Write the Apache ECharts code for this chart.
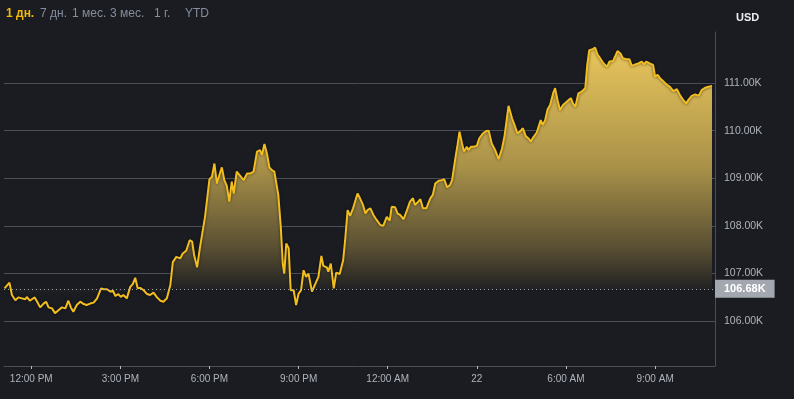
<!DOCTYPE html>
<html>
<head>
<meta charset="utf-8">
<script src="https://cdn.jsdelivr.net/npm/echarts@6/dist/echarts.min.js"></script>
<style>
html, body { margin: 0; padding: 0; background: #1b1c22; }
#chart { width: 794px; height: 399px; }
</style>
</head>
<body>
<div id="chart"></div>
<script>
// time of each point, minutes from 12:00 PM
var minutes = [
  -54, -44, -39, -32, -26, -19, -12, -9, -3, 1,
  7, 12, 18, 25, 30, 35, 42, 48, 55, 62,
  69, 75, 80, 85, 92, 99, 106, 112, 119, 126,
  133, 141, 146, 153, 160, 165, 170, 176, 181, 186,
  193, 200, 205, 210, 215, 220, 227, 234, 240, 247,
  254, 261, 267, 274, 281, 286, 293, 295, 301, 306,
  313, 320, 325, 329, 335, 341, 351, 360, 365, 370,
  375, 380, 385, 390, 395, 400, 405, 409, 415, 422,
  429, 436, 442, 449, 456, 462, 466, 471, 476, 481,
  486, 491, 495, 499, 504, 508, 511, 515, 520, 524,
  530, 535, 540, 545, 550, 555, 560, 567, 574, 580,
  586, 590, 597, 600, 605, 611, 616, 623, 630, 634,
  639, 644, 650, 654, 659, 664, 670, 675, 679, 685,
  691, 698, 705, 711, 718, 724, 728, 735, 740, 745,
  752, 759, 765, 771, 775, 780, 786, 791, 798, 802,
  806, 811, 816, 823, 829, 834, 840, 846, 850, 856,
  861, 865, 870, 874, 880, 883, 888, 893, 900, 905,
  912, 919, 924, 930, 937, 944, 951, 956, 964, 971,
  976, 982, 988, 993, 999, 1004, 1009, 1014, 1021, 1029,
  1033, 1038, 1043, 1048, 1054, 1058, 1063, 1068, 1074, 1078,
  1085, 1090, 1094, 1099, 1105, 1112, 1119, 1123, 1127, 1134,
  1139, 1144, 1149, 1156, 1163, 1168, 1175, 1179, 1184, 1190,
  1195, 1202, 1208, 1213, 1220, 1226, 1233, 1238, 1242, 1249,
  1256, 1260, 1265, 1270, 1277, 1284, 1290, 1297, 1304, 1311,
  1317, 1323, 1327, 1334, 1341, 1348, 1354, 1361, 1368, 1375
];

var prices = [
  106690, 106810, 106550, 106440, 106500, 106480, 106460, 106510, 106430, 106440,
  106500, 106410, 106290, 106370, 106410, 106290, 106270, 106170, 106230, 106290,
  106270, 106430, 106290, 106200, 106340, 106410, 106360, 106340, 106370, 106390,
  106480, 106690, 106670, 106670, 106620, 106640, 106530, 106570, 106510, 106550,
  106480, 106720, 106780, 106910, 106690, 106700, 106650, 106570, 106550, 106600,
  106500, 106430, 106410, 106480, 106760, 107240, 107350, 107390, 107320, 107420,
  107480, 107700, 107670, 107390, 107130, 107560, 108190, 108980, 109030, 109310,
  108890, 109070, 109230, 108960, 108840, 108510, 108930, 108680, 109140, 109050,
  108960, 109100, 109100, 109140, 109560, 109590, 109490, 109720, 109520, 109230,
  109170, 109140, 109100, 108650, 107980, 107210, 107000, 107630, 107530, 106650,
  106650, 106340, 106580, 106650, 107070, 106930, 107000, 106620, 106790, 106930,
  107370, 107160, 107130, 107040, 107210, 106690, 107020, 106990, 107280, 107700,
  108330, 108210, 108370, 108400, 108680, 108580, 108440, 108260, 108330, 108370,
  108230, 108120, 108020, 108000, 108190, 108110, 108400, 108390, 108260, 108230,
  108140, 108330, 108510, 108580, 108440, 108490, 108560, 108370, 108370, 108400,
  108580, 108650, 108890, 108950, 108960, 108980, 108810, 108860, 108960, 109380,
  109700, 109980, 109730, 109560, 109660, 109590, 109660, 109660, 109680, 109840,
  109940, 109990, 110000, 109730, 109590, 109400, 109630, 109890, 110520, 110260,
  110120, 109940, 109990, 110050, 109880, 109840, 109770, 109860, 109960, 110220,
  110120, 110220, 110450, 110540, 110780, 110890, 110640, 110430, 110540, 110500,
  110640, 110680, 110570, 110500, 110780, 110820, 110890, 111380, 111690, 111710,
  111740, 111590, 111520, 111410, 111340, 111450, 111460, 111550, 111670, 111620,
  111520, 111500, 111500, 111360, 111390, 111410, 111450, 111390, 111450, 111410,
  111380, 111130, 111170, 111100, 111030, 110960, 110920, 110830, 110870, 110730,
  110640, 110570, 110640, 110730, 110760, 110730, 110850, 110900, 110920, 110940
];

var tickMinutes = [0, 180, 360, 540, 720, 900, 1080, 1260];
var tickLabels = ['12:00 PM', '3:00 PM', '6:00 PM', '9:00 PM', '12:00 AM', '22', '6:00 AM', '9:00 AM'];
var priceTicks = [106000, 107000, 108000, 109000, 110000, 111000];
var openPrice = 106680;
var rangeTabs = ['1 дн.', '7 дн.', '1 мес.', '3 мес.', '1 г.', 'YTD'];
var currency = 'USD';

var chart = echarts.init(document.getElementById('chart'));

var seriesData = minutes.map(function (m, i) { return [m, prices[i]]; });

var tabX = [6, 40, 72, 110, 154, 185];
var graphics = rangeTabs.map(function (t, i) {
  return {
    type: 'text', left: tabX[i], top: 8,
    style: {
      text: t,
      fill: i === 0 ? '#f0b90b' : '#848e9c',
      font: (i === 0 ? 'bold ' : '') + '12px "Liberation Sans", Arial, sans-serif'
    }
  };
});
graphics.push({
  type: 'text', left: 736, top: 12,
  style: { text: currency, fill: '#eaecef', font: 'bold 11px "Liberation Sans", Arial, sans-serif' }
});

var fmtK = function (v) { return (v / 1000).toFixed(2) + 'K'; };

var option = {
  backgroundColor: '#1b1c22',
  animation: false,
  textStyle: { fontFamily: '"Liberation Sans", Arial, sans-serif' },
  graphic: graphics,
  grid: { left: 4, right: 79, top: 32, bottom: 33, containLabel: false, outerBoundsMode: 'none' },
  xAxis: {
    type: 'value',
    min: -55,
    max: 1381,
    axisLine: { show: true, onZero: false, lineStyle: { color: '#4a4e56', width: 1 } },
    axisTick: { show: true, customValues: tickMinutes, length: 3, lineStyle: { color: '#b7bdc6' } },
    axisLabel: {
      customValues: tickMinutes,
      color: '#aeb4bc',
      fontSize: 10,
      margin: 8,
      formatter: function (v) { return tickLabels[tickMinutes.indexOf(v)]; }
    },
    splitLine: { show: false }
  },
  yAxis: {
    type: 'value',
    position: 'right',
    min: 105060,
    max: 112070,
    axisLine: { show: true, onZero: false, lineStyle: { color: '#4a4e56', width: 1 } },
    axisTick: { show: false, customValues: priceTicks },
    axisLabel: {
      customValues: priceTicks,
      color: '#aeb4bc',
      fontSize: 10.5,
      margin: 9,
      formatter: fmtK
    },
    splitLine: { show: true, lineStyle: { color: '#4a4e56', width: 1 } }
  },
  series: [{
    type: 'line',
    data: seriesData,
    showSymbol: false,
    symbol: 'none',
    lineStyle: { color: '#f2bd1e', width: 2, shadowColor: 'rgba(0,0,0,0.6)', shadowBlur: 3 },
    areaStyle: {
      origin: openPrice,
      opacity: 1,
      color: new echarts.graphic.LinearGradient(0, 0, 0, 1, [
        { offset: 0, color: '#e8c55b' },
        { offset: 0.45, color: '#a99149' },
        { offset: 0.75, color: '#5a5033' },
        { offset: 0.93, color: '#1b1c22' }
      ])
    },
    markLine: {
      silent: true,
      symbol: ['none', 'none'],
      lineStyle: { type: [1, 3], color: '#9ea3ab', width: 1 },
      label: {
        position: 'end',
        distance: 0,
        formatter: function () { return fmtK(openPrice); },
        backgroundColor: '#a3a8b0',
        color: '#ffffff',
        fontSize: 11,
        fontWeight: 'bold',
        padding: [4, 9, 3, 9]
      },
      data: [{ yAxis: openPrice }]
    }
  }]
};

chart.setOption(option);
window.addEventListener('resize', function () { chart.resize(); });
</script>
</body>
</html>
